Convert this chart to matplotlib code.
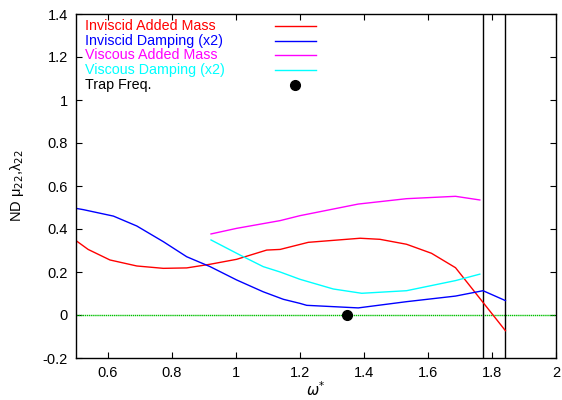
import matplotlib.pyplot as plt
import numpy as np

plt.rcParams['font.family'] = ['Liberation Sans', 'DejaVu Sans']
plt.rcParams['mathtext.fontset'] = 'dejavusans'

# inviscid added mass
x_ia = [0.5, 0.538, 0.606, 0.69, 0.773, 0.846, 0.919, 1.002, 1.096, 1.138, 1.226,
        1.388, 1.45, 1.533, 1.611, 1.686, 1.842]
y_ia = [0.346, 0.305, 0.256, 0.228, 0.217, 0.219, 0.236, 0.259, 0.302, 0.305, 0.338,
        0.357, 0.352, 0.329, 0.287, 0.22, -0.073]

# inviscid damping (x2)
x_id = [0.5, 0.523, 0.617, 0.69, 0.773, 0.846, 0.919, 1.002, 1.085, 1.148, 1.2,
        1.221, 1.382, 1.533, 1.686, 1.772, 1.842]
y_id = [0.496, 0.49, 0.46, 0.414, 0.341, 0.271, 0.225, 0.163, 0.108, 0.073, 0.054,
        0.045, 0.033, 0.062, 0.088, 0.113, 0.067]

# viscous added mass
x_va = [0.922, 1.002, 1.138, 1.2, 1.382, 1.533, 1.686, 1.762]
y_va = [0.377, 0.403, 0.439, 0.462, 0.516, 0.541, 0.552, 0.535]

# viscous damping (x2)
x_vd = [0.922, 1.0125, 1.085, 1.138, 1.2, 1.304, 1.393, 1.533, 1.686, 1.762]
y_vd = [0.349, 0.279, 0.225, 0.2, 0.166, 0.121, 0.101, 0.113, 0.16, 0.19]

trap_x = [1.347]
trap_y = [0.0]

vlines = [1.772, 1.842]

labels = ["Inviscid Added Mass", "Inviscid Damping (x2)", "Viscous Added Mass",
          "Viscous Damping (x2)", "Trap Freq."]
farger = ['#ff0000', '#0000ff', '#ff00ff', '#00ffff', '#000000']

fig = plt.figure(figsize=(5.62, 4.0), dpi=100)
ax = fig.add_axes([0.1352, 0.105, 0.9893 - 0.1352, 0.86])

ax.axhline(0, color='#00c000', lw=1.0, ls=(0, (1, 0.5)))
for xv in vlines:
    ax.axvline(xv, color='black', lw=1.0)

ax.plot(x_ia, y_ia, color=farger[0], lw=1.0)
ax.plot(x_id, y_id, color=farger[1], lw=1.0)
ax.plot(x_va, y_va, color=farger[2], lw=1.0)
ax.plot(x_vd, y_vd, color=farger[3], lw=1.0)
ax.plot(trap_x, trap_y, 'o', color='black', ms=7, clip_on=False, zorder=5)

# gnuplot-style key
for i, (lab, c) in enumerate(zip(labels, farger)):
    yk = 0.965 - i * 0.0426
    ax.text(0.019, yk, lab, color=c, fontsize=10.3, transform=ax.transAxes,
            va='center', ha='left')
    if i < 4:
        ax.plot([0.415, 0.5], [yk, yk], color=c, lw=1.0, transform=ax.transAxes)
    else:
        ax.plot([0.457], [yk], 'o', color=c, ms=7, transform=ax.transAxes)

ax.set_xlim(0.5, 2)
ax.set_ylim(-0.2, 1.4)
ax.set_xticks([0.6, 0.8, 1, 1.2, 1.4, 1.6, 1.8, 2])
ax.set_xticklabels(['0.6', '0.8', '1', '1.2', '1.4', '1.6', '1.8', '2'])
ax.set_yticks([-0.2, 0, 0.2, 0.4, 0.6, 0.8, 1, 1.2, 1.4])
ax.set_yticklabels(['-0.2', '0', '0.2', '0.4', '0.6', '0.8', '1', '1.2', '1.4'])
ax.tick_params(direction='in', top=True, right=True, length=4, width=0.8,
               labelsize=10.5, pad=6)
for s in ax.spines.values():
    s.set_linewidth(1.0)

ax.set_xlabel(r'$\omega^{*}$', fontsize=10.5, labelpad=0)
ax.set_ylabel('ND μ$_{22}$,λ$_{22}$', fontsize=10.5, labelpad=12)

fig.savefig('out.png', dpi=100)
